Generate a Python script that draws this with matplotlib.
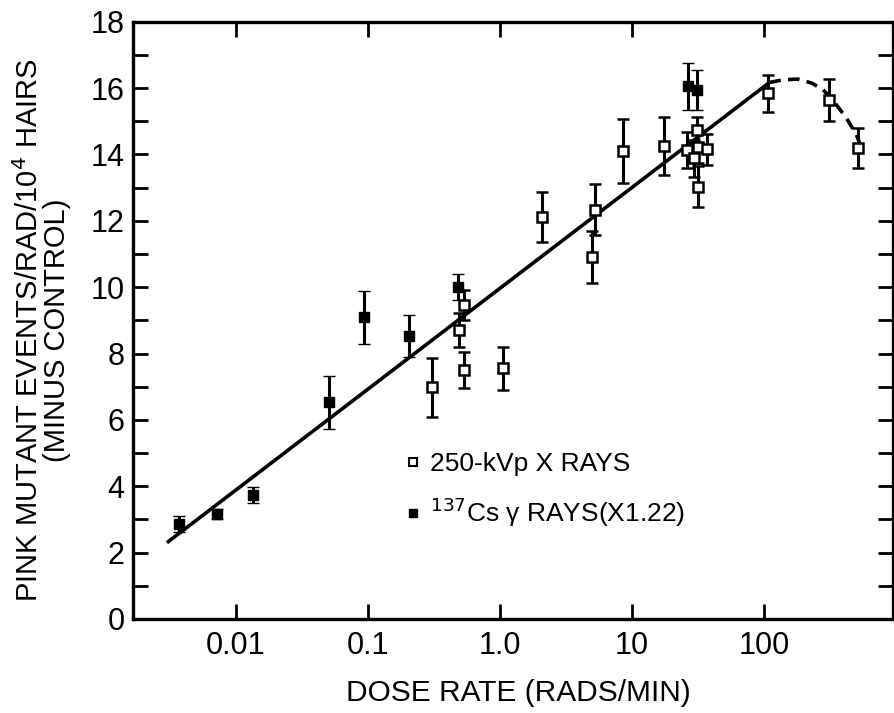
import matplotlib
matplotlib.use("Agg")
import matplotlib.pyplot as plt
from matplotlib.lines import Line2D
from matplotlib.ticker import FixedLocator, FixedFormatter, NullLocator

FONT = ['Liberation Sans Narrow', 'Liberation Sans', 'DejaVu Sans']
plt.rcParams['font.family'] = FONT
plt.rcParams['mathtext.fontset'] = 'custom'
plt.rcParams['mathtext.rm'] = 'Liberation Sans Narrow'
plt.rcParams['mathtext.it'] = 'Liberation Sans Narrow'
plt.rcParams['mathtext.bf'] = 'Liberation Sans Narrow'

# ---- data ----
# 250-kVp X rays (open squares)
xray_x = [0.307, 0.49, 0.53, 0.53, 1.05, 2.07, 5.25, 4.95, 8.6, 17.6,
          26.0, 31.0, 31.5, 29.5, 31.5, 37.0, 108, 313, 519]
xray_y = [6.98, 8.71, 9.45, 7.50, 7.56, 12.12, 12.33, 10.92, 14.11, 14.26,
          14.13, 14.74, 14.23, 13.88, 13.03, 14.15, 15.84, 15.64, 14.19]
xray_err = [0.9, 0.5, 0.45, 0.55, 0.65, 0.75, 0.77, 0.78, 0.97, 0.88,
            0.55, 0.4, 0.5, 0.55, 0.62, 0.47, 0.55, 0.62, 0.6]

# 137Cs gamma rays (x1.22) (filled squares)
cs_x = [0.00372, 0.00714, 0.0135, 0.0509, 0.0938, 0.205, 0.48, 26.5, 31.0]
cs_y = [2.86, 3.16, 3.74, 6.53, 9.09, 8.53, 10.0, 16.05, 15.95]
cs_err = [0.25, 0.15, 0.25, 0.8, 0.8, 0.62, 0.4, 0.7, 0.6]

# fitted straight line and dashed extension
fit_x = [0.003, 110]
fit_y = [2.30, 16.17]
ext_x = [110, 140, 180, 230, 280, 330, 420, 500, 540]
ext_y = [16.17, 16.25, 16.27, 16.15, 15.95, 15.65, 15.10, 14.60, 14.25]

xtick_vals = [0.01, 0.1, 1.0, 10, 100]
xtick_labels = ['0.01', '0.1', '1.0', '10', '100']
ytick_vals = [0, 2, 4, 6, 8, 10, 12, 14, 16, 18]
ytick_labels = ['0', '2', '4', '6', '8', '10', '12', '14', '16', '18']
yminor_vals = [1, 3, 5, 7, 9, 11, 13, 15, 17]

# ---- figure ----
fig = plt.figure(figsize=(8.94, 7.13), dpi=100)
ax = fig.add_axes([133/894, (713-619)/713, (893-133)/894, (619-21.7)/713])

ax.plot(fit_x, fit_y, color='black', lw=2.6, solid_capstyle='butt')
ax.plot(ext_x, ext_y, color='black', lw=2.6, dashes=(3.2, 2.0))

eb_kw = dict(fmt='s', ms=6.5, ecolor='black', elinewidth=2.2, capsize=4,
             capthick=2.2, zorder=3)
ax.errorbar(xray_x, xray_y, yerr=xray_err, mfc='white', mec='black', mew=1.8, **eb_kw)
ax.errorbar(cs_x, cs_y, yerr=cs_err, mfc='black', mec='black', mew=1.0, **eb_kw)

ax.set_xscale('log')
ax.set_xlim(0.00166, 948)
ax.set_ylim(0, 18)

ax.xaxis.set_major_locator(FixedLocator(xtick_vals))
ax.xaxis.set_major_formatter(FixedFormatter(xtick_labels))
ax.xaxis.set_minor_locator(NullLocator())
ax.yaxis.set_major_locator(FixedLocator(ytick_vals))
ax.yaxis.set_major_formatter(FixedFormatter(ytick_labels))
ax.yaxis.set_minor_locator(FixedLocator(yminor_vals))

ax.tick_params(which='both', direction='in', length=11, width=2.0,
               top=True, right=True, labelsize=22, pad=6)
ax.tick_params(axis='x', pad=9)
for s in ax.spines.values():
    s.set_linewidth(2.4)

ax.set_xlabel('DOSE RATE (RADS/MIN)', fontsize=21.5)
ax.xaxis.set_label_coords(0.507, -0.100)
ax.set_ylabel('PINK MUTANT EVENTS/RAD/10$^4$ HAIRS\n(MINUS CONTROL)',
              fontsize=21, linespacing=0.95)
ax.yaxis.set_label_coords(-0.082, 0.484)

handles = [Line2D([], [], ls='none', marker='s', ms=5.5, mfc='white', mec='black', mew=1.5),
           Line2D([], [], ls='none', marker='s', ms=5.5, mfc='black', mec='black')]
labels = ['250-kVp X RAYS', '$^{137}$Cs γ RAYS(X1.22)']
ax.legend(handles, labels, loc='center left', bbox_to_anchor=(0.34, 0.215),
          frameon=False, fontsize=19, handlelength=0.6, handletextpad=0.35,
          labelspacing=0.75, borderpad=0)

fig.savefig('out.png', dpi=100)
